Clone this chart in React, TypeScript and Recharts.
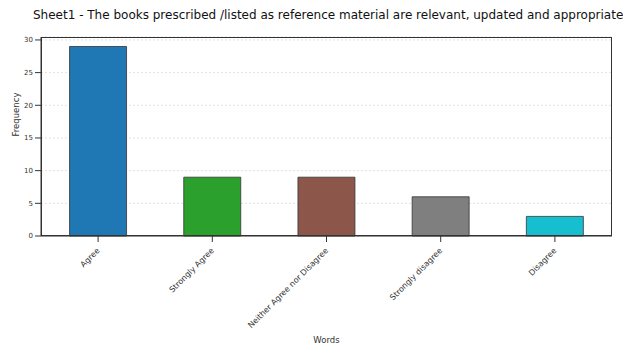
import React from 'react'
import { BarChart, Bar, XAxis, YAxis, CartesianGrid, Cell } from 'recharts'

const categories = ['Agree', 'Strongly Agree', 'Neither Agree nor Disagree', 'Strongly disagree', 'Disagree']
const frequencies = [29, 9, 9, 6, 3]
const barColors = ['#1f77b4', '#2ca02c', '#8c564b', '#7f7f7f', '#17becf']
const yTicks = [0, 5, 10, 15, 20, 25, 30]
const title = 'Sheet1 - The books prescribed /listed as reference material are relevant, updated and appropriate'

const data = categories.map((name, i) => ({ name, value: frequencies[i] }))

const font = 'DejaVu Sans, sans-serif'

const RotatedTick = (props: any) => {
  const { x, y, payload } = props
  return (
    <g transform={`translate(${x},${y + 5})`}>
      <text
        x={0}
        y={0}
        dy={3}
        textAnchor="end"
        transform="rotate(-45)"
        fontSize={8}
        fontFamily={font}
        fill="#333"
      >
        {payload.value}
      </text>
    </g>
  )
}

export default function App() {
  return (
    <div style={{ position: 'absolute', left: 0, top: 0, width: 623, height: 345, background: '#fff' }}>
      <div
        style={{
          position: 'absolute',
          left: 33,
          top: 8,
          width: 590,
          whiteSpace: 'nowrap',
          overflow: 'hidden',
          fontFamily: font,
          fontSize: 12,
          color: '#111',
        }}
      >
        {title}
      </div>
      <BarChart
        width={623}
        height={345}
        data={data}
        margin={{ top: 37, right: 11, bottom: 0, left: 0 }}
        barCategoryGap="25%"
      >
        <CartesianGrid vertical={false} stroke="#e2e2e2" strokeDasharray="2 2" />
        <XAxis
          dataKey="name"
          interval={0}
          tick={<RotatedTick />}
          tickLine={{ stroke: '#333' }}
          axisLine={{ stroke: '#333' }}
          height={109}
          label={{ value: 'Words', position: 'insideBottom', offset: 2, fontSize: 8.5, fontFamily: font, fill: '#333' }}
        />
        <YAxis
          width={41}
          domain={[0, 30.45]}
          ticks={yTicks}
          tick={{ fontSize: 7, fontFamily: font, fill: '#333' }}
          tickLine={{ stroke: '#333' }}
          axisLine={{ stroke: '#333' }}
          label={{ value: 'Frequency', angle: -90, position: 'insideLeft', offset: 16, fontSize: 8.5, fontFamily: font, fill: '#333' }}
        />
        <Bar dataKey="value" stroke="#333" strokeWidth={0.8} isAnimationActive={false}>
          {data.map((d, i) => (
            <Cell key={d.name} fill={barColors[i]} />
          ))}
        </Bar>
      </BarChart>
      <div
        style={{
          position: 'absolute',
          left: 41,
          top: 37,
          width: 571,
          height: 199,
          border: '1px solid #333',
          boxSizing: 'border-box',
          pointerEvents: 'none',
        }}
      />
    </div>
  )
}
